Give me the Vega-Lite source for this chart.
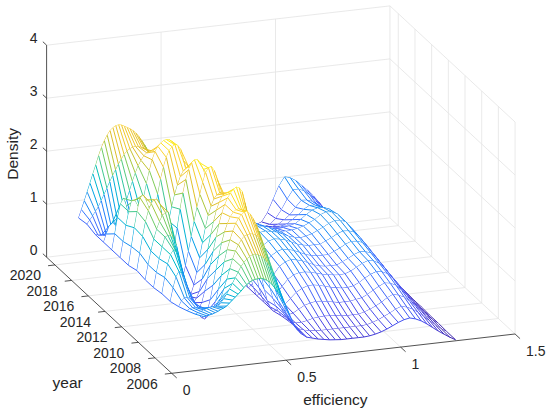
{
  "$schema": "https://vega.github.io/schema/vega-lite/v6.json",
  "description": "3D density mesh of efficiency by year, drawn with an oblique projection",
  "width": 550,
  "height": 413,
  "padding": 0,
  "autosize": "none",
  "background": "white",
  "config": {
    "view": {"stroke": null},
    "text": {"font": "Liberation Sans", "color": "#262626", "fontSize": 14}
  },
  "datasets": {
    "surface": [
      {"year":2021,"efficiency":0.14,"density":0.67},{"year":2021,"efficiency":0.1525,"density":0.82},{"year":2021,"efficiency":0.165,"density":0.98},{"year":2021,"efficiency":0.1775,"density":1.14},{"year":2021,"efficiency":0.19,"density":1.3},{"year":2021,"efficiency":0.2025,"density":1.47},{"year":2021,"efficiency":0.215,"density":1.63},{"year":2021,"efficiency":0.2275,"density":1.8},{"year":2021,"efficiency":0.24,"density":1.95},{"year":2021,"efficiency":0.2525,"density":2.07},{"year":2021,"efficiency":0.265,"density":2.17},{"year":2021,"efficiency":0.2775,"density":2.25},{"year":2021,"efficiency":0.29,"density":2.3},{"year":2021,"efficiency":0.3025,"density":2.33},{"year":2021,"efficiency":0.315,"density":2.34},{"year":2021,"efficiency":0.3275,"density":2.33},{"year":2021,"efficiency":0.34,"density":2.3},{"year":2021,"efficiency":0.3525,"density":2.27},{"year":2021,"efficiency":0.365,"density":2.24},{"year":2021,"efficiency":0.3775,"density":2.2},{"year":2021,"efficiency":0.39,"density":2.15},{"year":2021,"efficiency":0.4025,"density":2.08},{"year":2021,"efficiency":0.415,"density":2.0},{"year":2021,"efficiency":0.4275,"density":1.91},{"year":2021,"efficiency":0.44,"density":1.8},{"year":2021,"efficiency":0.4525,"density":1.65},{"year":2021,"efficiency":0.465,"density":1.47},{"year":2021,"efficiency":0.4775,"density":1.28},{"year":2021,"efficiency":0.49,"density":1.1},{"year":2021,"efficiency":0.5025,"density":0.93},{"year":2021,"efficiency":0.515,"density":0.78},{"year":2021,"efficiency":0.5275,"density":0.63},{"year":2021,"efficiency":0.54,"density":0.5},{"year":2021,"efficiency":0.5525,"density":0.41},{"year":2021,"efficiency":0.565,"density":0.34},{"year":2021,"efficiency":0.5775,"density":0.29},{"year":2021,"efficiency":0.59,"density":0.25},{"year":2021,"efficiency":0.615,"density":0.2},{"year":2021,"efficiency":0.64,"density":0.18},{"year":2021,"efficiency":0.665,"density":0.16},{"year":2021,"efficiency":0.69,"density":0.15},{"year":2021,"efficiency":0.715,"density":0.15},{"year":2021,"efficiency":0.74,"density":0.15},{"year":2021,"efficiency":0.765,"density":0.15},{"year":2021,"efficiency":0.79,"density":0.15},{"year":2021,"efficiency":0.815,"density":0.15},{"year":2021,"efficiency":0.84,"density":0.15},{"year":2021,"efficiency":0.865,"density":0.15},{"year":2021,"efficiency":0.89,"density":0.15},{"year":2021,"efficiency":0.915,"density":0.16},{"year":2021,"efficiency":0.94,"density":0.2},{"year":2021,"efficiency":0.965,"density":0.36},{"year":2021,"efficiency":0.99,"density":0.6},{"year":2021,"efficiency":1.015,"density":0.84},{"year":2021,"efficiency":1.04,"density":1.0},{"year":2021,"efficiency":1.065,"density":0.97},{"year":2021,"efficiency":1.09,"density":0.9},{"year":2021,"efficiency":1.115,"density":0.8},{"year":2021,"efficiency":1.14,"density":0.7},{"year":2021,"efficiency":1.165,"density":0.58},{"year":2021,"efficiency":1.19,"density":0.45},{"year":2021,"efficiency":1.215,"density":0.25},{"year":2021,"efficiency":1.24,"density":0.05},
      {"year":2020,"efficiency":0.14,"density":0.7},{"year":2020,"efficiency":0.1525,"density":0.77},{"year":2020,"efficiency":0.165,"density":0.84},{"year":2020,"efficiency":0.1775,"density":0.92},{"year":2020,"efficiency":0.19,"density":1.0},{"year":2020,"efficiency":0.2025,"density":1.11},{"year":2020,"efficiency":0.215,"density":1.22},{"year":2020,"efficiency":0.2275,"density":1.33},{"year":2020,"efficiency":0.24,"density":1.45},{"year":2020,"efficiency":0.2525,"density":1.56},{"year":2020,"efficiency":0.265,"density":1.66},{"year":2020,"efficiency":0.2775,"density":1.76},{"year":2020,"efficiency":0.29,"density":1.85},{"year":2020,"efficiency":0.3025,"density":1.93},{"year":2020,"efficiency":0.315,"density":1.99},{"year":2020,"efficiency":0.3275,"density":2.03},{"year":2020,"efficiency":0.34,"density":2.05},{"year":2020,"efficiency":0.3525,"density":2.06},{"year":2020,"efficiency":0.365,"density":2.05},{"year":2020,"efficiency":0.3775,"density":2.03},{"year":2020,"efficiency":0.39,"density":2.0},{"year":2020,"efficiency":0.4025,"density":1.95},{"year":2020,"efficiency":0.415,"density":1.88},{"year":2020,"efficiency":0.4275,"density":1.8},{"year":2020,"efficiency":0.44,"density":1.7},{"year":2020,"efficiency":0.4525,"density":1.57},{"year":2020,"efficiency":0.465,"density":1.42},{"year":2020,"efficiency":0.4775,"density":1.26},{"year":2020,"efficiency":0.49,"density":1.1},{"year":2020,"efficiency":0.5025,"density":0.95},{"year":2020,"efficiency":0.515,"density":0.8},{"year":2020,"efficiency":0.5275,"density":0.67},{"year":2020,"efficiency":0.54,"density":0.55},{"year":2020,"efficiency":0.5525,"density":0.47},{"year":2020,"efficiency":0.565,"density":0.4},{"year":2020,"efficiency":0.5775,"density":0.35},{"year":2020,"efficiency":0.59,"density":0.3},{"year":2020,"efficiency":0.615,"density":0.29},{"year":2020,"efficiency":0.64,"density":0.3},{"year":2020,"efficiency":0.665,"density":0.33},{"year":2020,"efficiency":0.69,"density":0.35},{"year":2020,"efficiency":0.715,"density":0.36},{"year":2020,"efficiency":0.74,"density":0.35},{"year":2020,"efficiency":0.765,"density":0.33},{"year":2020,"efficiency":0.79,"density":0.3},{"year":2020,"efficiency":0.815,"density":0.27},{"year":2020,"efficiency":0.84,"density":0.25},{"year":2020,"efficiency":0.865,"density":0.25},{"year":2020,"efficiency":0.89,"density":0.25},{"year":2020,"efficiency":0.915,"density":0.27},{"year":2020,"efficiency":0.94,"density":0.3},{"year":2020,"efficiency":0.965,"density":0.4},{"year":2020,"efficiency":0.99,"density":0.55},{"year":2020,"efficiency":1.015,"density":0.74},{"year":2020,"efficiency":1.04,"density":0.9},{"year":2020,"efficiency":1.065,"density":0.9},{"year":2020,"efficiency":1.09,"density":0.85},{"year":2020,"efficiency":1.115,"density":0.76},{"year":2020,"efficiency":1.14,"density":0.65},{"year":2020,"efficiency":1.165,"density":0.53},{"year":2020,"efficiency":1.19,"density":0.4},{"year":2020,"efficiency":1.215,"density":0.22},{"year":2020,"efficiency":1.24,"density":0.05},
      {"year":2019,"efficiency":0.14,"density":0.65},{"year":2019,"efficiency":0.1525,"density":0.63},{"year":2019,"efficiency":0.165,"density":0.62},{"year":2019,"efficiency":0.1775,"density":0.61},{"year":2019,"efficiency":0.19,"density":0.6},{"year":2019,"efficiency":0.2025,"density":0.62},{"year":2019,"efficiency":0.215,"density":0.66},{"year":2019,"efficiency":0.2275,"density":0.72},{"year":2019,"efficiency":0.24,"density":0.8},{"year":2019,"efficiency":0.2525,"density":0.93},{"year":2019,"efficiency":0.265,"density":1.08},{"year":2019,"efficiency":0.2775,"density":1.24},{"year":2019,"efficiency":0.29,"density":1.4},{"year":2019,"efficiency":0.3025,"density":1.57},{"year":2019,"efficiency":0.315,"density":1.72},{"year":2019,"efficiency":0.3275,"density":1.85},{"year":2019,"efficiency":0.34,"density":1.95},{"year":2019,"efficiency":0.3525,"density":2.03},{"year":2019,"efficiency":0.365,"density":2.08},{"year":2019,"efficiency":0.3775,"density":2.1},{"year":2019,"efficiency":0.39,"density":2.1},{"year":2019,"efficiency":0.4025,"density":2.08},{"year":2019,"efficiency":0.415,"density":2.04},{"year":2019,"efficiency":0.4275,"density":1.98},{"year":2019,"efficiency":0.44,"density":1.9},{"year":2019,"efficiency":0.4525,"density":1.76},{"year":2019,"efficiency":0.465,"density":1.58},{"year":2019,"efficiency":0.4775,"density":1.39},{"year":2019,"efficiency":0.49,"density":1.2},{"year":2019,"efficiency":0.5025,"density":1.02},{"year":2019,"efficiency":0.515,"density":0.85},{"year":2019,"efficiency":0.5275,"density":0.71},{"year":2019,"efficiency":0.54,"density":0.6},{"year":2019,"efficiency":0.5525,"density":0.53},{"year":2019,"efficiency":0.565,"density":0.47},{"year":2019,"efficiency":0.5775,"density":0.43},{"year":2019,"efficiency":0.59,"density":0.4},{"year":2019,"efficiency":0.615,"density":0.44},{"year":2019,"efficiency":0.64,"density":0.5},{"year":2019,"efficiency":0.665,"density":0.56},{"year":2019,"efficiency":0.69,"density":0.6},{"year":2019,"efficiency":0.715,"density":0.59},{"year":2019,"efficiency":0.74,"density":0.55},{"year":2019,"efficiency":0.765,"density":0.5},{"year":2019,"efficiency":0.79,"density":0.45},{"year":2019,"efficiency":0.815,"density":0.42},{"year":2019,"efficiency":0.84,"density":0.4},{"year":2019,"efficiency":0.865,"density":0.4},{"year":2019,"efficiency":0.89,"density":0.4},{"year":2019,"efficiency":0.915,"density":0.42},{"year":2019,"efficiency":0.94,"density":0.45},{"year":2019,"efficiency":0.965,"density":0.52},{"year":2019,"efficiency":0.99,"density":0.6},{"year":2019,"efficiency":1.015,"density":0.73},{"year":2019,"efficiency":1.04,"density":0.85},{"year":2019,"efficiency":1.065,"density":0.84},{"year":2019,"efficiency":1.09,"density":0.8},{"year":2019,"efficiency":1.115,"density":0.7},{"year":2019,"efficiency":1.14,"density":0.6},{"year":2019,"efficiency":1.165,"density":0.48},{"year":2019,"efficiency":1.19,"density":0.35},{"year":2019,"efficiency":1.215,"density":0.2},{"year":2019,"efficiency":1.24,"density":0.05},
      {"year":2018,"efficiency":0.14,"density":0.65},{"year":2018,"efficiency":0.1525,"density":0.8},{"year":2018,"efficiency":0.165,"density":0.95},{"year":2018,"efficiency":0.1775,"density":1.0},{"year":2018,"efficiency":0.19,"density":0.95},{"year":2018,"efficiency":0.2025,"density":0.8},{"year":2018,"efficiency":0.215,"density":0.6},{"year":2018,"efficiency":0.2275,"density":0.42},{"year":2018,"efficiency":0.24,"density":0.3},{"year":2018,"efficiency":0.2525,"density":0.37},{"year":2018,"efficiency":0.265,"density":0.5},{"year":2018,"efficiency":0.2775,"density":0.69},{"year":2018,"efficiency":0.29,"density":0.9},{"year":2018,"efficiency":0.3025,"density":1.15},{"year":2018,"efficiency":0.315,"density":1.4},{"year":2018,"efficiency":0.3275,"density":1.66},{"year":2018,"efficiency":0.34,"density":1.9},{"year":2018,"efficiency":0.3525,"density":2.1},{"year":2018,"efficiency":0.365,"density":2.25},{"year":2018,"efficiency":0.3775,"density":2.34},{"year":2018,"efficiency":0.39,"density":2.4},{"year":2018,"efficiency":0.4025,"density":2.44},{"year":2018,"efficiency":0.415,"density":2.45},{"year":2018,"efficiency":0.4275,"density":2.44},{"year":2018,"efficiency":0.44,"density":2.4},{"year":2018,"efficiency":0.4525,"density":2.25},{"year":2018,"efficiency":0.465,"density":2.05},{"year":2018,"efficiency":0.4775,"density":1.83},{"year":2018,"efficiency":0.49,"density":1.6},{"year":2018,"efficiency":0.5025,"density":1.32},{"year":2018,"efficiency":0.515,"density":1.05},{"year":2018,"efficiency":0.5275,"density":0.8},{"year":2018,"efficiency":0.54,"density":0.6},{"year":2018,"efficiency":0.5525,"density":0.52},{"year":2018,"efficiency":0.565,"density":0.47},{"year":2018,"efficiency":0.5775,"density":0.45},{"year":2018,"efficiency":0.59,"density":0.45},{"year":2018,"efficiency":0.615,"density":0.55},{"year":2018,"efficiency":0.64,"density":0.65},{"year":2018,"efficiency":0.665,"density":0.74},{"year":2018,"efficiency":0.69,"density":0.8},{"year":2018,"efficiency":0.715,"density":0.79},{"year":2018,"efficiency":0.74,"density":0.75},{"year":2018,"efficiency":0.765,"density":0.7},{"year":2018,"efficiency":0.79,"density":0.65},{"year":2018,"efficiency":0.815,"density":0.59},{"year":2018,"efficiency":0.84,"density":0.55},{"year":2018,"efficiency":0.865,"density":0.54},{"year":2018,"efficiency":0.89,"density":0.55},{"year":2018,"efficiency":0.915,"density":0.57},{"year":2018,"efficiency":0.94,"density":0.6},{"year":2018,"efficiency":0.965,"density":0.67},{"year":2018,"efficiency":0.99,"density":0.75},{"year":2018,"efficiency":1.015,"density":0.84},{"year":2018,"efficiency":1.04,"density":0.9},{"year":2018,"efficiency":1.065,"density":0.89},{"year":2018,"efficiency":1.09,"density":0.85},{"year":2018,"efficiency":1.115,"density":0.76},{"year":2018,"efficiency":1.14,"density":0.65},{"year":2018,"efficiency":1.165,"density":0.5},{"year":2018,"efficiency":1.19,"density":0.35},{"year":2018,"efficiency":1.215,"density":0.2},{"year":2018,"efficiency":1.24,"density":0.05},
      {"year":2017,"efficiency":0.14,"density":0.65},{"year":2017,"efficiency":0.1525,"density":0.95},{"year":2017,"efficiency":0.165,"density":1.25},{"year":2017,"efficiency":0.1775,"density":1.5},{"year":2017,"efficiency":0.19,"density":1.6},{"year":2017,"efficiency":0.2025,"density":1.45},{"year":2017,"efficiency":0.215,"density":1.15},{"year":2017,"efficiency":0.2275,"density":0.86},{"year":2017,"efficiency":0.24,"density":0.6},{"year":2017,"efficiency":0.2525,"density":0.5},{"year":2017,"efficiency":0.265,"density":0.45},{"year":2017,"efficiency":0.2775,"density":0.45},{"year":2017,"efficiency":0.29,"density":0.5},{"year":2017,"efficiency":0.3025,"density":0.7},{"year":2017,"efficiency":0.315,"density":0.95},{"year":2017,"efficiency":0.3275,"density":1.27},{"year":2017,"efficiency":0.34,"density":1.6},{"year":2017,"efficiency":0.3525,"density":1.88},{"year":2017,"efficiency":0.365,"density":2.1},{"year":2017,"efficiency":0.3775,"density":2.28},{"year":2017,"efficiency":0.39,"density":2.4},{"year":2017,"efficiency":0.4025,"density":2.47},{"year":2017,"efficiency":0.415,"density":2.5},{"year":2017,"efficiency":0.4275,"density":2.48},{"year":2017,"efficiency":0.44,"density":2.4},{"year":2017,"efficiency":0.4525,"density":2.18},{"year":2017,"efficiency":0.465,"density":1.9},{"year":2017,"efficiency":0.4775,"density":1.62},{"year":2017,"efficiency":0.49,"density":1.35},{"year":2017,"efficiency":0.5025,"density":1.09},{"year":2017,"efficiency":0.515,"density":0.85},{"year":2017,"efficiency":0.5275,"density":0.68},{"year":2017,"efficiency":0.54,"density":0.55},{"year":2017,"efficiency":0.5525,"density":0.47},{"year":2017,"efficiency":0.565,"density":0.42},{"year":2017,"efficiency":0.5775,"density":0.4},{"year":2017,"efficiency":0.59,"density":0.4},{"year":2017,"efficiency":0.615,"density":0.55},{"year":2017,"efficiency":0.64,"density":0.7},{"year":2017,"efficiency":0.665,"density":0.82},{"year":2017,"efficiency":0.69,"density":0.9},{"year":2017,"efficiency":0.715,"density":0.91},{"year":2017,"efficiency":0.74,"density":0.9},{"year":2017,"efficiency":0.765,"density":0.85},{"year":2017,"efficiency":0.79,"density":0.8},{"year":2017,"efficiency":0.815,"density":0.74},{"year":2017,"efficiency":0.84,"density":0.7},{"year":2017,"efficiency":0.865,"density":0.69},{"year":2017,"efficiency":0.89,"density":0.7},{"year":2017,"efficiency":0.915,"density":0.72},{"year":2017,"efficiency":0.94,"density":0.75},{"year":2017,"efficiency":0.965,"density":0.82},{"year":2017,"efficiency":0.99,"density":0.9},{"year":2017,"efficiency":1.015,"density":0.97},{"year":2017,"efficiency":1.04,"density":1.0},{"year":2017,"efficiency":1.065,"density":0.99},{"year":2017,"efficiency":1.09,"density":0.95},{"year":2017,"efficiency":1.115,"density":0.84},{"year":2017,"efficiency":1.14,"density":0.7},{"year":2017,"efficiency":1.165,"density":0.52},{"year":2017,"efficiency":1.19,"density":0.35},{"year":2017,"efficiency":1.215,"density":0.2},{"year":2017,"efficiency":1.24,"density":0.05},
      {"year":2016,"efficiency":0.14,"density":0.65},{"year":2016,"efficiency":0.1525,"density":0.95},{"year":2016,"efficiency":0.165,"density":1.25},{"year":2016,"efficiency":0.1775,"density":1.5},{"year":2016,"efficiency":0.19,"density":1.7},{"year":2016,"efficiency":0.2025,"density":1.7},{"year":2016,"efficiency":0.215,"density":1.6},{"year":2016,"efficiency":0.2275,"density":1.42},{"year":2016,"efficiency":0.24,"density":1.2},{"year":2016,"efficiency":0.2525,"density":0.9},{"year":2016,"efficiency":0.265,"density":0.6},{"year":2016,"efficiency":0.2775,"density":0.36},{"year":2016,"efficiency":0.29,"density":0.2},{"year":2016,"efficiency":0.3025,"density":0.28},{"year":2016,"efficiency":0.315,"density":0.45},{"year":2016,"efficiency":0.3275,"density":0.68},{"year":2016,"efficiency":0.34,"density":0.95},{"year":2016,"efficiency":0.3525,"density":1.23},{"year":2016,"efficiency":0.365,"density":1.5},{"year":2016,"efficiency":0.3775,"density":1.72},{"year":2016,"efficiency":0.39,"density":1.9},{"year":2016,"efficiency":0.4025,"density":2.05},{"year":2016,"efficiency":0.415,"density":2.15},{"year":2016,"efficiency":0.4275,"density":2.2},{"year":2016,"efficiency":0.44,"density":2.2},{"year":2016,"efficiency":0.4525,"density":2.15},{"year":2016,"efficiency":0.465,"density":2.05},{"year":2016,"efficiency":0.4775,"density":1.9},{"year":2016,"efficiency":0.49,"density":1.7},{"year":2016,"efficiency":0.5025,"density":1.46},{"year":2016,"efficiency":0.515,"density":1.2},{"year":2016,"efficiency":0.5275,"density":0.98},{"year":2016,"efficiency":0.54,"density":0.8},{"year":2016,"efficiency":0.5525,"density":0.62},{"year":2016,"efficiency":0.565,"density":0.48},{"year":2016,"efficiency":0.5775,"density":0.4},{"year":2016,"efficiency":0.59,"density":0.35},{"year":2016,"efficiency":0.615,"density":0.5},{"year":2016,"efficiency":0.64,"density":0.7},{"year":2016,"efficiency":0.665,"density":0.86},{"year":2016,"efficiency":0.69,"density":0.95},{"year":2016,"efficiency":0.715,"density":0.96},{"year":2016,"efficiency":0.74,"density":0.95},{"year":2016,"efficiency":0.765,"density":0.93},{"year":2016,"efficiency":0.79,"density":0.9},{"year":2016,"efficiency":0.815,"density":0.85},{"year":2016,"efficiency":0.84,"density":0.8},{"year":2016,"efficiency":0.865,"density":0.79},{"year":2016,"efficiency":0.89,"density":0.8},{"year":2016,"efficiency":0.915,"density":0.82},{"year":2016,"efficiency":0.94,"density":0.85},{"year":2016,"efficiency":0.965,"density":0.9},{"year":2016,"efficiency":0.99,"density":0.95},{"year":2016,"efficiency":1.015,"density":1.03},{"year":2016,"efficiency":1.04,"density":1.07},{"year":2016,"efficiency":1.065,"density":1.05},{"year":2016,"efficiency":1.09,"density":1.0},{"year":2016,"efficiency":1.115,"density":0.87},{"year":2016,"efficiency":1.14,"density":0.7},{"year":2016,"efficiency":1.165,"density":0.52},{"year":2016,"efficiency":1.19,"density":0.35},{"year":2016,"efficiency":1.215,"density":0.2},{"year":2016,"efficiency":1.24,"density":0.05},
      {"year":2015,"efficiency":0.14,"density":0.65},{"year":2015,"efficiency":0.1525,"density":1.0},{"year":2015,"efficiency":0.165,"density":1.35},{"year":2015,"efficiency":0.1775,"density":1.65},{"year":2015,"efficiency":0.19,"density":1.9},{"year":2015,"efficiency":0.2025,"density":1.95},{"year":2015,"efficiency":0.215,"density":1.85},{"year":2015,"efficiency":0.2275,"density":1.7},{"year":2015,"efficiency":0.24,"density":1.5},{"year":2015,"efficiency":0.2525,"density":1.18},{"year":2015,"efficiency":0.265,"density":0.85},{"year":2015,"efficiency":0.2775,"density":0.55},{"year":2015,"efficiency":0.29,"density":0.3},{"year":2015,"efficiency":0.3025,"density":0.27},{"year":2015,"efficiency":0.315,"density":0.35},{"year":2015,"efficiency":0.3275,"density":0.58},{"year":2015,"efficiency":0.34,"density":0.9},{"year":2015,"efficiency":0.3525,"density":1.25},{"year":2015,"efficiency":0.365,"density":1.6},{"year":2015,"efficiency":0.3775,"density":1.9},{"year":2015,"efficiency":0.39,"density":2.15},{"year":2015,"efficiency":0.4025,"density":2.33},{"year":2015,"efficiency":0.415,"density":2.45},{"year":2015,"efficiency":0.4275,"density":2.5},{"year":2015,"efficiency":0.44,"density":2.5},{"year":2015,"efficiency":0.4525,"density":2.43},{"year":2015,"efficiency":0.465,"density":2.3},{"year":2015,"efficiency":0.4775,"density":2.1},{"year":2015,"efficiency":0.49,"density":1.85},{"year":2015,"efficiency":0.5025,"density":1.58},{"year":2015,"efficiency":0.515,"density":1.3},{"year":2015,"efficiency":0.5275,"density":1.04},{"year":2015,"efficiency":0.54,"density":0.8},{"year":2015,"efficiency":0.5525,"density":0.6},{"year":2015,"efficiency":0.565,"density":0.45},{"year":2015,"efficiency":0.5775,"density":0.36},{"year":2015,"efficiency":0.59,"density":0.3},{"year":2015,"efficiency":0.615,"density":0.45},{"year":2015,"efficiency":0.64,"density":0.65},{"year":2015,"efficiency":0.665,"density":0.83},{"year":2015,"efficiency":0.69,"density":0.95},{"year":2015,"efficiency":0.715,"density":0.99},{"year":2015,"efficiency":0.74,"density":1.0},{"year":2015,"efficiency":0.765,"density":0.98},{"year":2015,"efficiency":0.79,"density":0.95},{"year":2015,"efficiency":0.815,"density":0.9},{"year":2015,"efficiency":0.84,"density":0.85},{"year":2015,"efficiency":0.865,"density":0.82},{"year":2015,"efficiency":0.89,"density":0.8},{"year":2015,"efficiency":0.915,"density":0.82},{"year":2015,"efficiency":0.94,"density":0.85},{"year":2015,"efficiency":0.965,"density":0.9},{"year":2015,"efficiency":0.99,"density":0.95},{"year":2015,"efficiency":1.015,"density":1.01},{"year":2015,"efficiency":1.04,"density":1.05},{"year":2015,"efficiency":1.065,"density":1.04},{"year":2015,"efficiency":1.09,"density":1.0},{"year":2015,"efficiency":1.115,"density":0.87},{"year":2015,"efficiency":1.14,"density":0.7},{"year":2015,"efficiency":1.165,"density":0.52},{"year":2015,"efficiency":1.19,"density":0.35},{"year":2015,"efficiency":1.215,"density":0.2},{"year":2015,"efficiency":1.24,"density":0.05},
      {"year":2014,"efficiency":0.14,"density":0.7},{"year":2014,"efficiency":0.1525,"density":1.02},{"year":2014,"efficiency":0.165,"density":1.33},{"year":2014,"efficiency":0.1775,"density":1.6},{"year":2014,"efficiency":0.19,"density":1.8},{"year":2014,"efficiency":0.2025,"density":1.93},{"year":2014,"efficiency":0.215,"density":2.0},{"year":2014,"efficiency":0.2275,"density":2.0},{"year":2014,"efficiency":0.24,"density":1.9},{"year":2014,"efficiency":0.2525,"density":1.5},{"year":2014,"efficiency":0.265,"density":1.0},{"year":2014,"efficiency":0.2775,"density":0.52},{"year":2014,"efficiency":0.29,"density":0.15},{"year":2014,"efficiency":0.3025,"density":0.14},{"year":2014,"efficiency":0.315,"density":0.2},{"year":2014,"efficiency":0.3275,"density":0.3},{"year":2014,"efficiency":0.34,"density":0.45},{"year":2014,"efficiency":0.3525,"density":0.68},{"year":2014,"efficiency":0.365,"density":0.95},{"year":2014,"efficiency":0.3775,"density":1.22},{"year":2014,"efficiency":0.39,"density":1.5},{"year":2014,"efficiency":0.4025,"density":1.76},{"year":2014,"efficiency":0.415,"density":2.0},{"year":2014,"efficiency":0.4275,"density":2.22},{"year":2014,"efficiency":0.44,"density":2.4},{"year":2014,"efficiency":0.4525,"density":2.48},{"year":2014,"efficiency":0.465,"density":2.5},{"year":2014,"efficiency":0.4775,"density":2.42},{"year":2014,"efficiency":0.49,"density":2.25},{"year":2014,"efficiency":0.5025,"density":2.0},{"year":2014,"efficiency":0.515,"density":1.7},{"year":2014,"efficiency":0.5275,"density":1.4},{"year":2014,"efficiency":0.54,"density":1.1},{"year":2014,"efficiency":0.5525,"density":0.8},{"year":2014,"efficiency":0.565,"density":0.55},{"year":2014,"efficiency":0.5775,"density":0.4},{"year":2014,"efficiency":0.59,"density":0.3},{"year":2014,"efficiency":0.615,"density":0.42},{"year":2014,"efficiency":0.64,"density":0.6},{"year":2014,"efficiency":0.665,"density":0.77},{"year":2014,"efficiency":0.69,"density":0.9},{"year":2014,"efficiency":0.715,"density":0.97},{"year":2014,"efficiency":0.74,"density":1.0},{"year":2014,"efficiency":0.765,"density":0.98},{"year":2014,"efficiency":0.79,"density":0.95},{"year":2014,"efficiency":0.815,"density":0.9},{"year":2014,"efficiency":0.84,"density":0.85},{"year":2014,"efficiency":0.865,"density":0.82},{"year":2014,"efficiency":0.89,"density":0.8},{"year":2014,"efficiency":0.915,"density":0.8},{"year":2014,"efficiency":0.94,"density":0.8},{"year":2014,"efficiency":0.965,"density":0.85},{"year":2014,"efficiency":0.99,"density":0.9},{"year":2014,"efficiency":1.015,"density":0.96},{"year":2014,"efficiency":1.04,"density":1.0},{"year":2014,"efficiency":1.065,"density":0.99},{"year":2014,"efficiency":1.09,"density":0.95},{"year":2014,"efficiency":1.115,"density":0.84},{"year":2014,"efficiency":1.14,"density":0.7},{"year":2014,"efficiency":1.165,"density":0.52},{"year":2014,"efficiency":1.19,"density":0.35},{"year":2014,"efficiency":1.215,"density":0.2},{"year":2014,"efficiency":1.24,"density":0.05},
      {"year":2013,"efficiency":0.14,"density":0.67},{"year":2013,"efficiency":0.1525,"density":0.95},{"year":2013,"efficiency":0.165,"density":1.2},{"year":2013,"efficiency":0.1775,"density":1.42},{"year":2013,"efficiency":0.19,"density":1.6},{"year":2013,"efficiency":0.2025,"density":1.74},{"year":2013,"efficiency":0.215,"density":1.85},{"year":2013,"efficiency":0.2275,"density":1.9},{"year":2013,"efficiency":0.24,"density":1.9},{"year":2013,"efficiency":0.2525,"density":1.65},{"year":2013,"efficiency":0.265,"density":1.3},{"year":2013,"efficiency":0.2775,"density":0.88},{"year":2013,"efficiency":0.29,"density":0.5},{"year":2013,"efficiency":0.3025,"density":0.37},{"year":2013,"efficiency":0.315,"density":0.3},{"year":2013,"efficiency":0.3275,"density":0.27},{"year":2013,"efficiency":0.34,"density":0.3},{"year":2013,"efficiency":0.3525,"density":0.47},{"year":2013,"efficiency":0.365,"density":0.7},{"year":2013,"efficiency":0.3775,"density":0.97},{"year":2013,"efficiency":0.39,"density":1.25},{"year":2013,"efficiency":0.4025,"density":1.51},{"year":2013,"efficiency":0.415,"density":1.75},{"year":2013,"efficiency":0.4275,"density":1.92},{"year":2013,"efficiency":0.44,"density":2.05},{"year":2013,"efficiency":0.4525,"density":2.12},{"year":2013,"efficiency":0.465,"density":2.15},{"year":2013,"efficiency":0.4775,"density":2.12},{"year":2013,"efficiency":0.49,"density":2.05},{"year":2013,"efficiency":0.5025,"density":1.9},{"year":2013,"efficiency":0.515,"density":1.7},{"year":2013,"efficiency":0.5275,"density":1.46},{"year":2013,"efficiency":0.54,"density":1.2},{"year":2013,"efficiency":0.5525,"density":0.92},{"year":2013,"efficiency":0.565,"density":0.65},{"year":2013,"efficiency":0.5775,"density":0.45},{"year":2013,"efficiency":0.59,"density":0.3},{"year":2013,"efficiency":0.615,"density":0.4},{"year":2013,"efficiency":0.64,"density":0.55},{"year":2013,"efficiency":0.665,"density":0.72},{"year":2013,"efficiency":0.69,"density":0.85},{"year":2013,"efficiency":0.715,"density":0.92},{"year":2013,"efficiency":0.74,"density":0.95},{"year":2013,"efficiency":0.765,"density":0.93},{"year":2013,"efficiency":0.79,"density":0.9},{"year":2013,"efficiency":0.815,"density":0.85},{"year":2013,"efficiency":0.84,"density":0.8},{"year":2013,"efficiency":0.865,"density":0.77},{"year":2013,"efficiency":0.89,"density":0.75},{"year":2013,"efficiency":0.915,"density":0.75},{"year":2013,"efficiency":0.94,"density":0.75},{"year":2013,"efficiency":0.965,"density":0.8},{"year":2013,"efficiency":0.99,"density":0.85},{"year":2013,"efficiency":1.015,"density":0.91},{"year":2013,"efficiency":1.04,"density":0.95},{"year":2013,"efficiency":1.065,"density":0.94},{"year":2013,"efficiency":1.09,"density":0.9},{"year":2013,"efficiency":1.115,"density":0.79},{"year":2013,"efficiency":1.14,"density":0.65},{"year":2013,"efficiency":1.165,"density":0.5},{"year":2013,"efficiency":1.19,"density":0.35},{"year":2013,"efficiency":1.215,"density":0.2},{"year":2013,"efficiency":1.24,"density":0.05},
      {"year":2012,"efficiency":0.14,"density":0.67},{"year":2012,"efficiency":0.1525,"density":0.95},{"year":2012,"efficiency":0.165,"density":1.2},{"year":2012,"efficiency":0.1775,"density":1.42},{"year":2012,"efficiency":0.19,"density":1.6},{"year":2012,"efficiency":0.2025,"density":1.62},{"year":2012,"efficiency":0.215,"density":1.6},{"year":2012,"efficiency":0.2275,"density":1.53},{"year":2012,"efficiency":0.24,"density":1.4},{"year":2012,"efficiency":0.2525,"density":1.14},{"year":2012,"efficiency":0.265,"density":0.85},{"year":2012,"efficiency":0.2775,"density":0.57},{"year":2012,"efficiency":0.29,"density":0.35},{"year":2012,"efficiency":0.3025,"density":0.29},{"year":2012,"efficiency":0.315,"density":0.3},{"year":2012,"efficiency":0.3275,"density":0.38},{"year":2012,"efficiency":0.34,"density":0.5},{"year":2012,"efficiency":0.3525,"density":0.73},{"year":2012,"efficiency":0.365,"density":1.0},{"year":2012,"efficiency":0.3775,"density":1.28},{"year":2012,"efficiency":0.39,"density":1.55},{"year":2012,"efficiency":0.4025,"density":1.79},{"year":2012,"efficiency":0.415,"density":2.0},{"year":2012,"efficiency":0.4275,"density":2.14},{"year":2012,"efficiency":0.44,"density":2.25},{"year":2012,"efficiency":0.4525,"density":2.29},{"year":2012,"efficiency":0.465,"density":2.3},{"year":2012,"efficiency":0.4775,"density":2.27},{"year":2012,"efficiency":0.49,"density":2.2},{"year":2012,"efficiency":0.5025,"density":2.02},{"year":2012,"efficiency":0.515,"density":1.8},{"year":2012,"efficiency":0.5275,"density":1.51},{"year":2012,"efficiency":0.54,"density":1.2},{"year":2012,"efficiency":0.5525,"density":0.92},{"year":2012,"efficiency":0.565,"density":0.65},{"year":2012,"efficiency":0.5775,"density":0.45},{"year":2012,"efficiency":0.59,"density":0.3},{"year":2012,"efficiency":0.615,"density":0.38},{"year":2012,"efficiency":0.64,"density":0.5},{"year":2012,"efficiency":0.665,"density":0.66},{"year":2012,"efficiency":0.69,"density":0.8},{"year":2012,"efficiency":0.715,"density":0.87},{"year":2012,"efficiency":0.74,"density":0.9},{"year":2012,"efficiency":0.765,"density":0.88},{"year":2012,"efficiency":0.79,"density":0.85},{"year":2012,"efficiency":0.815,"density":0.8},{"year":2012,"efficiency":0.84,"density":0.75},{"year":2012,"efficiency":0.865,"density":0.72},{"year":2012,"efficiency":0.89,"density":0.7},{"year":2012,"efficiency":0.915,"density":0.7},{"year":2012,"efficiency":0.94,"density":0.7},{"year":2012,"efficiency":0.965,"density":0.75},{"year":2012,"efficiency":0.99,"density":0.8},{"year":2012,"efficiency":1.015,"density":0.86},{"year":2012,"efficiency":1.04,"density":0.9},{"year":2012,"efficiency":1.065,"density":0.89},{"year":2012,"efficiency":1.09,"density":0.85},{"year":2012,"efficiency":1.115,"density":0.74},{"year":2012,"efficiency":1.14,"density":0.6},{"year":2012,"efficiency":1.165,"density":0.45},{"year":2012,"efficiency":1.19,"density":0.3},{"year":2012,"efficiency":1.215,"density":0.17},{"year":2012,"efficiency":1.24,"density":0.05},
      {"year":2011,"efficiency":0.14,"density":0.7},{"year":2011,"efficiency":0.1525,"density":1.0},{"year":2011,"efficiency":0.165,"density":1.25},{"year":2011,"efficiency":0.1775,"density":1.42},{"year":2011,"efficiency":0.19,"density":1.5},{"year":2011,"efficiency":0.2025,"density":1.45},{"year":2011,"efficiency":0.215,"density":1.3},{"year":2011,"efficiency":0.2275,"density":1.1},{"year":2011,"efficiency":0.24,"density":0.9},{"year":2011,"efficiency":0.2525,"density":0.69},{"year":2011,"efficiency":0.265,"density":0.5},{"year":2011,"efficiency":0.2775,"density":0.37},{"year":2011,"efficiency":0.29,"density":0.3},{"year":2011,"efficiency":0.3025,"density":0.35},{"year":2011,"efficiency":0.315,"density":0.45},{"year":2011,"efficiency":0.3275,"density":0.66},{"year":2011,"efficiency":0.34,"density":0.9},{"year":2011,"efficiency":0.3525,"density":1.15},{"year":2011,"efficiency":0.365,"density":1.4},{"year":2011,"efficiency":0.3775,"density":1.66},{"year":2011,"efficiency":0.39,"density":1.9},{"year":2011,"efficiency":0.4025,"density":2.1},{"year":2011,"efficiency":0.415,"density":2.25},{"year":2011,"efficiency":0.4275,"density":2.37},{"year":2011,"efficiency":0.44,"density":2.45},{"year":2011,"efficiency":0.4525,"density":2.52},{"year":2011,"efficiency":0.465,"density":2.55},{"year":2011,"efficiency":0.4775,"density":2.53},{"year":2011,"efficiency":0.49,"density":2.45},{"year":2011,"efficiency":0.5025,"density":2.23},{"year":2011,"efficiency":0.515,"density":1.95},{"year":2011,"efficiency":0.5275,"density":1.58},{"year":2011,"efficiency":0.54,"density":1.2},{"year":2011,"efficiency":0.5525,"density":0.88},{"year":2011,"efficiency":0.565,"density":0.6},{"year":2011,"efficiency":0.5775,"density":0.42},{"year":2011,"efficiency":0.59,"density":0.3},{"year":2011,"efficiency":0.615,"density":0.35},{"year":2011,"efficiency":0.64,"density":0.45},{"year":2011,"efficiency":0.665,"density":0.58},{"year":2011,"efficiency":0.69,"density":0.7},{"year":2011,"efficiency":0.715,"density":0.77},{"year":2011,"efficiency":0.74,"density":0.8},{"year":2011,"efficiency":0.765,"density":0.8},{"year":2011,"efficiency":0.79,"density":0.78},{"year":2011,"efficiency":0.815,"density":0.75},{"year":2011,"efficiency":0.84,"density":0.72},{"year":2011,"efficiency":0.865,"density":0.7},{"year":2011,"efficiency":0.89,"density":0.68},{"year":2011,"efficiency":0.915,"density":0.67},{"year":2011,"efficiency":0.94,"density":0.68},{"year":2011,"efficiency":0.965,"density":0.72},{"year":2011,"efficiency":0.99,"density":0.78},{"year":2011,"efficiency":1.015,"density":0.84},{"year":2011,"efficiency":1.04,"density":0.88},{"year":2011,"efficiency":1.065,"density":0.86},{"year":2011,"efficiency":1.09,"density":0.8},{"year":2011,"efficiency":1.115,"density":0.69},{"year":2011,"efficiency":1.14,"density":0.55},{"year":2011,"efficiency":1.165,"density":0.41},{"year":2011,"efficiency":1.19,"density":0.28},{"year":2011,"efficiency":1.215,"density":0.15},{"year":2011,"efficiency":1.24,"density":0.04},
      {"year":2010,"efficiency":0.14,"density":0.7},{"year":2010,"efficiency":0.1525,"density":0.95},{"year":2010,"efficiency":0.165,"density":1.15},{"year":2010,"efficiency":0.1775,"density":1.25},{"year":2010,"efficiency":0.19,"density":1.2},{"year":2010,"efficiency":0.2025,"density":1.08},{"year":2010,"efficiency":0.215,"density":0.93},{"year":2010,"efficiency":0.2275,"density":0.76},{"year":2010,"efficiency":0.24,"density":0.6},{"year":2010,"efficiency":0.2525,"density":0.49},{"year":2010,"efficiency":0.265,"density":0.4},{"year":2010,"efficiency":0.2775,"density":0.33},{"year":2010,"efficiency":0.29,"density":0.3},{"year":2010,"efficiency":0.3025,"density":0.44},{"year":2010,"efficiency":0.315,"density":0.65},{"year":2010,"efficiency":0.3275,"density":0.92},{"year":2010,"efficiency":0.34,"density":1.2},{"year":2010,"efficiency":0.3525,"density":1.46},{"year":2010,"efficiency":0.365,"density":1.7},{"year":2010,"efficiency":0.3775,"density":1.9},{"year":2010,"efficiency":0.39,"density":2.05},{"year":2010,"efficiency":0.4025,"density":2.17},{"year":2010,"efficiency":0.415,"density":2.25},{"year":2010,"efficiency":0.4275,"density":2.29},{"year":2010,"efficiency":0.44,"density":2.3},{"year":2010,"efficiency":0.4525,"density":2.27},{"year":2010,"efficiency":0.465,"density":2.2},{"year":2010,"efficiency":0.4775,"density":2.09},{"year":2010,"efficiency":0.49,"density":1.95},{"year":2010,"efficiency":0.5025,"density":1.74},{"year":2010,"efficiency":0.515,"density":1.5},{"year":2010,"efficiency":0.5275,"density":1.23},{"year":2010,"efficiency":0.54,"density":0.95},{"year":2010,"efficiency":0.5525,"density":0.71},{"year":2010,"efficiency":0.565,"density":0.5},{"year":2010,"efficiency":0.5775,"density":0.38},{"year":2010,"efficiency":0.59,"density":0.3},{"year":2010,"efficiency":0.615,"density":0.33},{"year":2010,"efficiency":0.64,"density":0.4},{"year":2010,"efficiency":0.665,"density":0.5},{"year":2010,"efficiency":0.69,"density":0.6},{"year":2010,"efficiency":0.715,"density":0.66},{"year":2010,"efficiency":0.74,"density":0.7},{"year":2010,"efficiency":0.765,"density":0.7},{"year":2010,"efficiency":0.79,"density":0.68},{"year":2010,"efficiency":0.815,"density":0.65},{"year":2010,"efficiency":0.84,"density":0.62},{"year":2010,"efficiency":0.865,"density":0.6},{"year":2010,"efficiency":0.89,"density":0.58},{"year":2010,"efficiency":0.915,"density":0.58},{"year":2010,"efficiency":0.94,"density":0.6},{"year":2010,"efficiency":0.965,"density":0.65},{"year":2010,"efficiency":0.99,"density":0.72},{"year":2010,"efficiency":1.015,"density":0.78},{"year":2010,"efficiency":1.04,"density":0.82},{"year":2010,"efficiency":1.065,"density":0.8},{"year":2010,"efficiency":1.09,"density":0.75},{"year":2010,"efficiency":1.115,"density":0.64},{"year":2010,"efficiency":1.14,"density":0.5},{"year":2010,"efficiency":1.165,"density":0.37},{"year":2010,"efficiency":1.19,"density":0.25},{"year":2010,"efficiency":1.215,"density":0.14},{"year":2010,"efficiency":1.24,"density":0.04},
      {"year":2009,"efficiency":0.14,"density":0.75},{"year":2009,"efficiency":0.1525,"density":0.85},{"year":2009,"efficiency":0.165,"density":0.9},{"year":2009,"efficiency":0.1775,"density":0.9},{"year":2009,"efficiency":0.19,"density":0.88},{"year":2009,"efficiency":0.2025,"density":0.82},{"year":2009,"efficiency":0.215,"density":0.75},{"year":2009,"efficiency":0.2275,"density":0.67},{"year":2009,"efficiency":0.24,"density":0.6},{"year":2009,"efficiency":0.2525,"density":0.56},{"year":2009,"efficiency":0.265,"density":0.55},{"year":2009,"efficiency":0.2775,"density":0.56},{"year":2009,"efficiency":0.29,"density":0.6},{"year":2009,"efficiency":0.3025,"density":0.78},{"year":2009,"efficiency":0.315,"density":1.0},{"year":2009,"efficiency":0.3275,"density":1.25},{"year":2009,"efficiency":0.34,"density":1.5},{"year":2009,"efficiency":0.3525,"density":1.72},{"year":2009,"efficiency":0.365,"density":1.9},{"year":2009,"efficiency":0.3775,"density":2.06},{"year":2009,"efficiency":0.39,"density":2.2},{"year":2009,"efficiency":0.4025,"density":2.29},{"year":2009,"efficiency":0.415,"density":2.35},{"year":2009,"efficiency":0.4275,"density":2.39},{"year":2009,"efficiency":0.44,"density":2.4},{"year":2009,"efficiency":0.4525,"density":2.34},{"year":2009,"efficiency":0.465,"density":2.25},{"year":2009,"efficiency":0.4775,"density":2.14},{"year":2009,"efficiency":0.49,"density":2.0},{"year":2009,"efficiency":0.5025,"density":1.73},{"year":2009,"efficiency":0.515,"density":1.45},{"year":2009,"efficiency":0.5275,"density":1.17},{"year":2009,"efficiency":0.54,"density":0.9},{"year":2009,"efficiency":0.5525,"density":0.7},{"year":2009,"efficiency":0.565,"density":0.55},{"year":2009,"efficiency":0.5775,"density":0.44},{"year":2009,"efficiency":0.59,"density":0.35},{"year":2009,"efficiency":0.615,"density":0.35},{"year":2009,"efficiency":0.64,"density":0.38},{"year":2009,"efficiency":0.665,"density":0.44},{"year":2009,"efficiency":0.69,"density":0.5},{"year":2009,"efficiency":0.715,"density":0.53},{"year":2009,"efficiency":0.74,"density":0.55},{"year":2009,"efficiency":0.765,"density":0.54},{"year":2009,"efficiency":0.79,"density":0.52},{"year":2009,"efficiency":0.815,"density":0.5},{"year":2009,"efficiency":0.84,"density":0.48},{"year":2009,"efficiency":0.865,"density":0.48},{"year":2009,"efficiency":0.89,"density":0.48},{"year":2009,"efficiency":0.915,"density":0.5},{"year":2009,"efficiency":0.94,"density":0.52},{"year":2009,"efficiency":0.965,"density":0.57},{"year":2009,"efficiency":0.99,"density":0.64},{"year":2009,"efficiency":1.015,"density":0.7},{"year":2009,"efficiency":1.04,"density":0.75},{"year":2009,"efficiency":1.065,"density":0.73},{"year":2009,"efficiency":1.09,"density":0.68},{"year":2009,"efficiency":1.115,"density":0.57},{"year":2009,"efficiency":1.14,"density":0.45},{"year":2009,"efficiency":1.165,"density":0.33},{"year":2009,"efficiency":1.19,"density":0.22},{"year":2009,"efficiency":1.215,"density":0.12},{"year":2009,"efficiency":1.24,"density":0.03},
      {"year":2008,"efficiency":0.14,"density":0.82},{"year":2008,"efficiency":0.1525,"density":0.85},{"year":2008,"efficiency":0.165,"density":0.86},{"year":2008,"efficiency":0.1775,"density":0.86},{"year":2008,"efficiency":0.19,"density":0.85},{"year":2008,"efficiency":0.2025,"density":0.84},{"year":2008,"efficiency":0.215,"density":0.83},{"year":2008,"efficiency":0.2275,"density":0.81},{"year":2008,"efficiency":0.24,"density":0.8},{"year":2008,"efficiency":0.2525,"density":0.82},{"year":2008,"efficiency":0.265,"density":0.87},{"year":2008,"efficiency":0.2775,"density":0.93},{"year":2008,"efficiency":0.29,"density":1.0},{"year":2008,"efficiency":0.3025,"density":1.16},{"year":2008,"efficiency":0.315,"density":1.33},{"year":2008,"efficiency":0.3275,"density":1.52},{"year":2008,"efficiency":0.34,"density":1.7},{"year":2008,"efficiency":0.3525,"density":1.84},{"year":2008,"efficiency":0.365,"density":1.95},{"year":2008,"efficiency":0.3775,"density":2.04},{"year":2008,"efficiency":0.39,"density":2.1},{"year":2008,"efficiency":0.4025,"density":2.12},{"year":2008,"efficiency":0.415,"density":2.13},{"year":2008,"efficiency":0.4275,"density":2.12},{"year":2008,"efficiency":0.44,"density":2.1},{"year":2008,"efficiency":0.4525,"density":2.04},{"year":2008,"efficiency":0.465,"density":1.95},{"year":2008,"efficiency":0.4775,"density":1.84},{"year":2008,"efficiency":0.49,"density":1.7},{"year":2008,"efficiency":0.5025,"density":1.48},{"year":2008,"efficiency":0.515,"density":1.25},{"year":2008,"efficiency":0.5275,"density":1.02},{"year":2008,"efficiency":0.54,"density":0.8},{"year":2008,"efficiency":0.5525,"density":0.66},{"year":2008,"efficiency":0.565,"density":0.55},{"year":2008,"efficiency":0.5775,"density":0.46},{"year":2008,"efficiency":0.59,"density":0.38},{"year":2008,"efficiency":0.615,"density":0.35},{"year":2008,"efficiency":0.64,"density":0.35},{"year":2008,"efficiency":0.665,"density":0.37},{"year":2008,"efficiency":0.69,"density":0.4},{"year":2008,"efficiency":0.715,"density":0.41},{"year":2008,"efficiency":0.74,"density":0.42},{"year":2008,"efficiency":0.765,"density":0.41},{"year":2008,"efficiency":0.79,"density":0.4},{"year":2008,"efficiency":0.815,"density":0.39},{"year":2008,"efficiency":0.84,"density":0.38},{"year":2008,"efficiency":0.865,"density":0.38},{"year":2008,"efficiency":0.89,"density":0.38},{"year":2008,"efficiency":0.915,"density":0.41},{"year":2008,"efficiency":0.94,"density":0.45},{"year":2008,"efficiency":0.965,"density":0.5},{"year":2008,"efficiency":0.99,"density":0.56},{"year":2008,"efficiency":1.015,"density":0.63},{"year":2008,"efficiency":1.04,"density":0.68},{"year":2008,"efficiency":1.065,"density":0.65},{"year":2008,"efficiency":1.09,"density":0.6},{"year":2008,"efficiency":1.115,"density":0.5},{"year":2008,"efficiency":1.14,"density":0.4},{"year":2008,"efficiency":1.165,"density":0.3},{"year":2008,"efficiency":1.19,"density":0.2},{"year":2008,"efficiency":1.215,"density":0.11},{"year":2008,"efficiency":1.24,"density":0.03},
      {"year":2007,"efficiency":0.14,"density":0.9},{"year":2007,"efficiency":0.1525,"density":0.92},{"year":2007,"efficiency":0.165,"density":0.94},{"year":2007,"efficiency":0.1775,"density":0.96},{"year":2007,"efficiency":0.19,"density":0.98},{"year":2007,"efficiency":0.2025,"density":0.99},{"year":2007,"efficiency":0.215,"density":1.0},{"year":2007,"efficiency":0.2275,"density":1.0},{"year":2007,"efficiency":0.24,"density":1.0},{"year":2007,"efficiency":0.2525,"density":1.06},{"year":2007,"efficiency":0.265,"density":1.13},{"year":2007,"efficiency":0.2775,"density":1.21},{"year":2007,"efficiency":0.29,"density":1.3},{"year":2007,"efficiency":0.3025,"density":1.4},{"year":2007,"efficiency":0.315,"density":1.5},{"year":2007,"efficiency":0.3275,"density":1.6},{"year":2007,"efficiency":0.34,"density":1.7},{"year":2007,"efficiency":0.3525,"density":1.77},{"year":2007,"efficiency":0.365,"density":1.83},{"year":2007,"efficiency":0.3775,"density":1.87},{"year":2007,"efficiency":0.39,"density":1.9},{"year":2007,"efficiency":0.4025,"density":1.9},{"year":2007,"efficiency":0.415,"density":1.88},{"year":2007,"efficiency":0.4275,"density":1.85},{"year":2007,"efficiency":0.44,"density":1.8},{"year":2007,"efficiency":0.4525,"density":1.72},{"year":2007,"efficiency":0.465,"density":1.63},{"year":2007,"efficiency":0.4775,"density":1.52},{"year":2007,"efficiency":0.49,"density":1.4},{"year":2007,"efficiency":0.5025,"density":1.23},{"year":2007,"efficiency":0.515,"density":1.05},{"year":2007,"efficiency":0.5275,"density":0.87},{"year":2007,"efficiency":0.54,"density":0.7},{"year":2007,"efficiency":0.5525,"density":0.6},{"year":2007,"efficiency":0.565,"density":0.52},{"year":2007,"efficiency":0.5775,"density":0.46},{"year":2007,"efficiency":0.59,"density":0.4},{"year":2007,"efficiency":0.615,"density":0.36},{"year":2007,"efficiency":0.64,"density":0.34},{"year":2007,"efficiency":0.665,"density":0.33},{"year":2007,"efficiency":0.69,"density":0.32},{"year":2007,"efficiency":0.715,"density":0.32},{"year":2007,"efficiency":0.74,"density":0.32},{"year":2007,"efficiency":0.765,"density":0.32},{"year":2007,"efficiency":0.79,"density":0.32},{"year":2007,"efficiency":0.815,"density":0.32},{"year":2007,"efficiency":0.84,"density":0.32},{"year":2007,"efficiency":0.865,"density":0.32},{"year":2007,"efficiency":0.89,"density":0.33},{"year":2007,"efficiency":0.915,"density":0.36},{"year":2007,"efficiency":0.94,"density":0.4},{"year":2007,"efficiency":0.965,"density":0.45},{"year":2007,"efficiency":0.99,"density":0.5},{"year":2007,"efficiency":1.015,"density":0.56},{"year":2007,"efficiency":1.04,"density":0.6},{"year":2007,"efficiency":1.065,"density":0.57},{"year":2007,"efficiency":1.09,"density":0.52},{"year":2007,"efficiency":1.115,"density":0.44},{"year":2007,"efficiency":1.14,"density":0.35},{"year":2007,"efficiency":1.165,"density":0.26},{"year":2007,"efficiency":1.19,"density":0.17},{"year":2007,"efficiency":1.215,"density":0.09},{"year":2007,"efficiency":1.24,"density":0.02},
      {"year":2006,"efficiency":0.14,"density":1.0},{"year":2006,"efficiency":0.1525,"density":1.01},{"year":2006,"efficiency":0.165,"density":1.02},{"year":2006,"efficiency":0.1775,"density":1.03},{"year":2006,"efficiency":0.19,"density":1.05},{"year":2006,"efficiency":0.2025,"density":1.07},{"year":2006,"efficiency":0.215,"density":1.1},{"year":2006,"efficiency":0.2275,"density":1.12},{"year":2006,"efficiency":0.24,"density":1.15},{"year":2006,"efficiency":0.2525,"density":1.2},{"year":2006,"efficiency":0.265,"density":1.25},{"year":2006,"efficiency":0.2775,"density":1.3},{"year":2006,"efficiency":0.29,"density":1.35},{"year":2006,"efficiency":0.3025,"density":1.4},{"year":2006,"efficiency":0.315,"density":1.46},{"year":2006,"efficiency":0.3275,"density":1.51},{"year":2006,"efficiency":0.34,"density":1.55},{"year":2006,"efficiency":0.3525,"density":1.58},{"year":2006,"efficiency":0.365,"density":1.59},{"year":2006,"efficiency":0.3775,"density":1.6},{"year":2006,"efficiency":0.39,"density":1.6},{"year":2006,"efficiency":0.4025,"density":1.58},{"year":2006,"efficiency":0.415,"density":1.55},{"year":2006,"efficiency":0.4275,"density":1.51},{"year":2006,"efficiency":0.44,"density":1.45},{"year":2006,"efficiency":0.4525,"density":1.38},{"year":2006,"efficiency":0.465,"density":1.3},{"year":2006,"efficiency":0.4775,"density":1.21},{"year":2006,"efficiency":0.49,"density":1.1},{"year":2006,"efficiency":0.5025,"density":0.98},{"year":2006,"efficiency":0.515,"density":0.85},{"year":2006,"efficiency":0.5275,"density":0.72},{"year":2006,"efficiency":0.54,"density":0.6},{"year":2006,"efficiency":0.5525,"density":0.53},{"year":2006,"efficiency":0.565,"density":0.47},{"year":2006,"efficiency":0.5775,"density":0.43},{"year":2006,"efficiency":0.59,"density":0.39},{"year":2006,"efficiency":0.615,"density":0.36},{"year":2006,"efficiency":0.64,"density":0.33},{"year":2006,"efficiency":0.665,"density":0.31},{"year":2006,"efficiency":0.69,"density":0.29},{"year":2006,"efficiency":0.715,"density":0.28},{"year":2006,"efficiency":0.74,"density":0.27},{"year":2006,"efficiency":0.765,"density":0.27},{"year":2006,"efficiency":0.79,"density":0.27},{"year":2006,"efficiency":0.815,"density":0.27},{"year":2006,"efficiency":0.84,"density":0.27},{"year":2006,"efficiency":0.865,"density":0.28},{"year":2006,"efficiency":0.89,"density":0.3},{"year":2006,"efficiency":0.915,"density":0.33},{"year":2006,"efficiency":0.94,"density":0.37},{"year":2006,"efficiency":0.965,"density":0.42},{"year":2006,"efficiency":0.99,"density":0.47},{"year":2006,"efficiency":1.015,"density":0.51},{"year":2006,"efficiency":1.04,"density":0.53},{"year":2006,"efficiency":1.065,"density":0.5},{"year":2006,"efficiency":1.09,"density":0.45},{"year":2006,"efficiency":1.115,"density":0.38},{"year":2006,"efficiency":1.14,"density":0.3},{"year":2006,"efficiency":1.165,"density":0.22},{"year":2006,"efficiency":1.19,"density":0.15},{"year":2006,"efficiency":1.215,"density":0.08},{"year":2006,"efficiency":1.24,"density":0.02}
    ],
    "lines": [
      {"kind":"grid","e1":0,"yr1":2021,"z1":0,"e2":1.5,"yr2":2021,"z2":0},
      {"kind":"grid","e1":0,"yr1":2021,"z1":1,"e2":1.5,"yr2":2021,"z2":1},
      {"kind":"grid","e1":0,"yr1":2021,"z1":2,"e2":1.5,"yr2":2021,"z2":2},
      {"kind":"grid","e1":0,"yr1":2021,"z1":3,"e2":1.5,"yr2":2021,"z2":3},
      {"kind":"grid","e1":0,"yr1":2021,"z1":4,"e2":1.5,"yr2":2021,"z2":4},
      {"kind":"grid","e1":0.5,"yr1":2021,"z1":0,"e2":0.5,"yr2":2021,"z2":4},
      {"kind":"grid","e1":1,"yr1":2021,"z1":0,"e2":1,"yr2":2021,"z2":4},
      {"kind":"grid","e1":1.5,"yr1":2021,"z1":0,"e2":1.5,"yr2":2021,"z2":4},
      {"kind":"grid","e1":1.5,"yr1":2006,"z1":0,"e2":1.5,"yr2":2021,"z2":0},
      {"kind":"grid","e1":1.5,"yr1":2006,"z1":1,"e2":1.5,"yr2":2021,"z2":1},
      {"kind":"grid","e1":1.5,"yr1":2006,"z1":2,"e2":1.5,"yr2":2021,"z2":2},
      {"kind":"grid","e1":1.5,"yr1":2006,"z1":3,"e2":1.5,"yr2":2021,"z2":3},
      {"kind":"grid","e1":1.5,"yr1":2006,"z1":4,"e2":1.5,"yr2":2021,"z2":4},
      {"kind":"grid","e1":1.5,"yr1":2006,"z1":0,"e2":1.5,"yr2":2006,"z2":4},
      {"kind":"grid","e1":1.5,"yr1":2008,"z1":0,"e2":1.5,"yr2":2008,"z2":4},
      {"kind":"grid","e1":1.5,"yr1":2010,"z1":0,"e2":1.5,"yr2":2010,"z2":4},
      {"kind":"grid","e1":1.5,"yr1":2012,"z1":0,"e2":1.5,"yr2":2012,"z2":4},
      {"kind":"grid","e1":1.5,"yr1":2014,"z1":0,"e2":1.5,"yr2":2014,"z2":4},
      {"kind":"grid","e1":1.5,"yr1":2016,"z1":0,"e2":1.5,"yr2":2016,"z2":4},
      {"kind":"grid","e1":1.5,"yr1":2018,"z1":0,"e2":1.5,"yr2":2018,"z2":4},
      {"kind":"grid","e1":1.5,"yr1":2020,"z1":0,"e2":1.5,"yr2":2020,"z2":4},
      {"kind":"grid","e1":0.5,"yr1":2006,"z1":0,"e2":0.5,"yr2":2021,"z2":0},
      {"kind":"grid","e1":1,"yr1":2006,"z1":0,"e2":1,"yr2":2021,"z2":0},
      {"kind":"grid","e1":0,"yr1":2008,"z1":0,"e2":1.5,"yr2":2008,"z2":0},
      {"kind":"grid","e1":0,"yr1":2010,"z1":0,"e2":1.5,"yr2":2010,"z2":0},
      {"kind":"grid","e1":0,"yr1":2012,"z1":0,"e2":1.5,"yr2":2012,"z2":0},
      {"kind":"grid","e1":0,"yr1":2014,"z1":0,"e2":1.5,"yr2":2014,"z2":0},
      {"kind":"grid","e1":0,"yr1":2016,"z1":0,"e2":1.5,"yr2":2016,"z2":0},
      {"kind":"grid","e1":0,"yr1":2018,"z1":0,"e2":1.5,"yr2":2018,"z2":0},
      {"kind":"grid","e1":0,"yr1":2020,"z1":0,"e2":1.5,"yr2":2020,"z2":0},
      {"kind":"axis","e1":0,"yr1":2021,"z1":0,"e2":0,"yr2":2021,"z2":4},
      {"kind":"axis","e1":0,"yr1":2006,"z1":0,"e2":0,"yr2":2021,"z2":0},
      {"kind":"axis","e1":0,"yr1":2006,"z1":0,"e2":1.5,"yr2":2006,"z2":0},
      {"kind":"axis","e1":0,"yr1":2021,"z1":0,"e2":0,"yr2":2021.45,"z2":0},
      {"kind":"axis","e1":0,"yr1":2021,"z1":1,"e2":0,"yr2":2021.45,"z2":1},
      {"kind":"axis","e1":0,"yr1":2021,"z1":2,"e2":0,"yr2":2021.45,"z2":2},
      {"kind":"axis","e1":0,"yr1":2021,"z1":3,"e2":0,"yr2":2021.45,"z2":3},
      {"kind":"axis","e1":0,"yr1":2021,"z1":4,"e2":0,"yr2":2021.45,"z2":4},
      {"kind":"axis","e1":0,"yr1":2006,"z1":0,"e2":-0.03,"yr2":2006,"z2":0},
      {"kind":"axis","e1":0,"yr1":2008,"z1":0,"e2":-0.03,"yr2":2008,"z2":0},
      {"kind":"axis","e1":0,"yr1":2010,"z1":0,"e2":-0.03,"yr2":2010,"z2":0},
      {"kind":"axis","e1":0,"yr1":2012,"z1":0,"e2":-0.03,"yr2":2012,"z2":0},
      {"kind":"axis","e1":0,"yr1":2014,"z1":0,"e2":-0.03,"yr2":2014,"z2":0},
      {"kind":"axis","e1":0,"yr1":2016,"z1":0,"e2":-0.03,"yr2":2016,"z2":0},
      {"kind":"axis","e1":0,"yr1":2018,"z1":0,"e2":-0.03,"yr2":2018,"z2":0},
      {"kind":"axis","e1":0,"yr1":2020,"z1":0,"e2":-0.03,"yr2":2020,"z2":0},
      {"kind":"axis","e1":0,"yr1":2006,"z1":0,"e2":0,"yr2":2005.4,"z2":0},
      {"kind":"axis","e1":0.5,"yr1":2006,"z1":0,"e2":0.5,"yr2":2005.4,"z2":0},
      {"kind":"axis","e1":1,"yr1":2006,"z1":0,"e2":1,"yr2":2005.4,"z2":0},
      {"kind":"axis","e1":1.5,"yr1":2006,"z1":0,"e2":1.5,"yr2":2005.4,"z2":0}
    ],
    "labels": [
      {"kind":"z","e":0,"yr":2021,"z":0,"text":"0"},
      {"kind":"z","e":0,"yr":2021,"z":1,"text":"1"},
      {"kind":"z","e":0,"yr":2021,"z":2,"text":"2"},
      {"kind":"z","e":0,"yr":2021,"z":3,"text":"3"},
      {"kind":"z","e":0,"yr":2021,"z":4,"text":"4"},
      {"kind":"year","e":0,"yr":2006,"z":0,"text":"2006"},
      {"kind":"year","e":0,"yr":2008,"z":0,"text":"2008"},
      {"kind":"year","e":0,"yr":2010,"z":0,"text":"2010"},
      {"kind":"year","e":0,"yr":2012,"z":0,"text":"2012"},
      {"kind":"year","e":0,"yr":2014,"z":0,"text":"2014"},
      {"kind":"year","e":0,"yr":2016,"z":0,"text":"2016"},
      {"kind":"year","e":0,"yr":2018,"z":0,"text":"2018"},
      {"kind":"year","e":0,"yr":2020,"z":0,"text":"2020"},
      {"kind":"eff","e":0,"yr":2006,"z":0,"text":"0"},
      {"kind":"eff","e":0.5,"yr":2006,"z":0,"text":"0.5"},
      {"kind":"eff","e":1,"yr":2006,"z":0,"text":"1"},
      {"kind":"eff","e":1.5,"yr":2006,"z":0,"text":"1.5"},
      {"kind":"ztitle","e":0,"yr":2021,"z":2,"text":"Density"},
      {"kind":"ytitle","e":0,"yr":2006,"z":0,"text":"year"},
      {"kind":"etitle","e":0.75,"yr":2006,"z":0,"text":"efficiency"}
    ]
  },
  "encoding": {
    "x": {"field": "sx", "type": "quantitative", "scale": {"domain": [0, 550], "nice": false, "zero": false}, "axis": null},
    "y": {"field": "sy", "type": "quantitative", "scale": {"domain": [0, 413], "reverse": true, "nice": false, "zero": false}, "axis": null}
  },
  "layer": [
    {
      "data": {"name": "lines"},
      "transform": [
        {"filter": "datum.kind == 'grid'"},
        {"calculate": "171.7 + 228.9*datum.e1 - 8.34*(datum.yr1 - 2006)", "as": "sx"},
        {"calculate": "373.3 - 26.2*datum.e1 - 7.74*(datum.yr1 - 2006) - 53*datum.z1", "as": "sy"},
        {"calculate": "171.7 + 228.9*datum.e2 - 8.34*(datum.yr2 - 2006)", "as": "sx2"},
        {"calculate": "373.3 - 26.2*datum.e2 - 7.74*(datum.yr2 - 2006) - 53*datum.z2", "as": "sy2"}
      ],
      "mark": {"type": "rule", "color": "#e3e3e3", "strokeWidth": 0.8},
      "encoding": {"x2": {"field": "sx2"}, "y2": {"field": "sy2"}}
    },
    {
      "data": {"name": "surface"},
      "transform": [
        {"calculate": "datum.year - 2006", "as": "t"},
        {"calculate": "171.7 + 228.9*datum.efficiency - 8.34*datum.t", "as": "sx"},
        {"calculate": "373.3 - 26.2*datum.efficiency - 7.74*datum.t - 53*datum.density", "as": "sy"},
        {"window": [{"op": "lead", "field": "sx", "as": "nx"}, {"op": "lead", "field": "sy", "as": "ny"}, {"op": "lead", "field": "density", "as": "nd"}], "groupby": ["year"], "sort": [{"field": "efficiency", "order": "ascending"}]},
        {"window": [{"op": "lag", "field": "sx", "as": "bx"}, {"op": "lag", "field": "sy", "as": "by"}, {"op": "lag", "field": "density", "as": "bd"}], "groupby": ["efficiency"], "sort": [{"field": "year", "order": "ascending"}]},
        {"calculate": "1", "as": "pb"},
        {"calculate": "1", "as": "pf"},
        {"fold": ["nx", "bx", "pb", "pf"], "as": ["kind", "sx2"]},
        {"calculate": "datum.kind == 'nx' ? datum.ny : datum.by", "as": "sy2"},
        {"calculate": "datum.kind == 'nx' ? (datum.density + datum.nd) / 2 : (datum.density + datum.bd) / 2", "as": "c"},
        {"calculate": "datum.kind == 'pf' ? 10 - datum.efficiency : datum.efficiency", "as": "ord"}
      ],
      "encoding": {
        "color": {
          "field": "c",
          "type": "quantitative",
          "scale": {
            "domain": [0, 0.4, 0.75, 1.05, 1.3, 1.5, 1.75, 2.0, 2.28, 2.55],
            "range": ["#3e26a8", "#4747eb", "#3e6fff", "#2796eb", "#08b5d0", "#31c69f", "#80cc59", "#dcbd29", "#fccf30", "#f9fb15"]
          },
          "legend": null
        }
      },
      "layer": [
        {"transform": [{"filter": "datum.kind == 'nx' && datum.year == 2021 && isValid(datum.sx2)"}], "mark": {"type": "rule", "strokeWidth": 1}, "encoding": {"x2": {"field": "sx2"}, "y2": {"field": "sy2"}}},
        {"transform": [{"filter": "(datum.kind == 'pb' && datum.year == 2021) || (datum.kind == 'pf' && datum.year == 2020)"}], "mark": {"type": "line", "fill": "white", "strokeWidth": 0}, "encoding": {"order": {"field": "ord", "type": "quantitative"}, "color": {"value": "white"}}},
        {"transform": [{"filter": "((datum.kind == 'bx' && datum.year == 2021) || (datum.kind == 'nx' && datum.year == 2020)) && isValid(datum.sx2)"}], "mark": {"type": "rule", "strokeWidth": 1}, "encoding": {"x2": {"field": "sx2"}, "y2": {"field": "sy2"}}},
        {"transform": [{"filter": "(datum.kind == 'pb' && datum.year == 2020) || (datum.kind == 'pf' && datum.year == 2019)"}], "mark": {"type": "line", "fill": "white", "strokeWidth": 0}, "encoding": {"order": {"field": "ord", "type": "quantitative"}, "color": {"value": "white"}}},
        {"transform": [{"filter": "((datum.kind == 'bx' && datum.year == 2020) || (datum.kind == 'nx' && datum.year == 2019)) && isValid(datum.sx2)"}], "mark": {"type": "rule", "strokeWidth": 1}, "encoding": {"x2": {"field": "sx2"}, "y2": {"field": "sy2"}}},
        {"transform": [{"filter": "(datum.kind == 'pb' && datum.year == 2019) || (datum.kind == 'pf' && datum.year == 2018)"}], "mark": {"type": "line", "fill": "white", "strokeWidth": 0}, "encoding": {"order": {"field": "ord", "type": "quantitative"}, "color": {"value": "white"}}},
        {"transform": [{"filter": "((datum.kind == 'bx' && datum.year == 2019) || (datum.kind == 'nx' && datum.year == 2018)) && isValid(datum.sx2)"}], "mark": {"type": "rule", "strokeWidth": 1}, "encoding": {"x2": {"field": "sx2"}, "y2": {"field": "sy2"}}},
        {"transform": [{"filter": "(datum.kind == 'pb' && datum.year == 2018) || (datum.kind == 'pf' && datum.year == 2017)"}], "mark": {"type": "line", "fill": "white", "strokeWidth": 0}, "encoding": {"order": {"field": "ord", "type": "quantitative"}, "color": {"value": "white"}}},
        {"transform": [{"filter": "((datum.kind == 'bx' && datum.year == 2018) || (datum.kind == 'nx' && datum.year == 2017)) && isValid(datum.sx2)"}], "mark": {"type": "rule", "strokeWidth": 1}, "encoding": {"x2": {"field": "sx2"}, "y2": {"field": "sy2"}}},
        {"transform": [{"filter": "(datum.kind == 'pb' && datum.year == 2017) || (datum.kind == 'pf' && datum.year == 2016)"}], "mark": {"type": "line", "fill": "white", "strokeWidth": 0}, "encoding": {"order": {"field": "ord", "type": "quantitative"}, "color": {"value": "white"}}},
        {"transform": [{"filter": "((datum.kind == 'bx' && datum.year == 2017) || (datum.kind == 'nx' && datum.year == 2016)) && isValid(datum.sx2)"}], "mark": {"type": "rule", "strokeWidth": 1}, "encoding": {"x2": {"field": "sx2"}, "y2": {"field": "sy2"}}},
        {"transform": [{"filter": "(datum.kind == 'pb' && datum.year == 2016) || (datum.kind == 'pf' && datum.year == 2015)"}], "mark": {"type": "line", "fill": "white", "strokeWidth": 0}, "encoding": {"order": {"field": "ord", "type": "quantitative"}, "color": {"value": "white"}}},
        {"transform": [{"filter": "((datum.kind == 'bx' && datum.year == 2016) || (datum.kind == 'nx' && datum.year == 2015)) && isValid(datum.sx2)"}], "mark": {"type": "rule", "strokeWidth": 1}, "encoding": {"x2": {"field": "sx2"}, "y2": {"field": "sy2"}}},
        {"transform": [{"filter": "(datum.kind == 'pb' && datum.year == 2015) || (datum.kind == 'pf' && datum.year == 2014)"}], "mark": {"type": "line", "fill": "white", "strokeWidth": 0}, "encoding": {"order": {"field": "ord", "type": "quantitative"}, "color": {"value": "white"}}},
        {"transform": [{"filter": "((datum.kind == 'bx' && datum.year == 2015) || (datum.kind == 'nx' && datum.year == 2014)) && isValid(datum.sx2)"}], "mark": {"type": "rule", "strokeWidth": 1}, "encoding": {"x2": {"field": "sx2"}, "y2": {"field": "sy2"}}},
        {"transform": [{"filter": "(datum.kind == 'pb' && datum.year == 2014) || (datum.kind == 'pf' && datum.year == 2013)"}], "mark": {"type": "line", "fill": "white", "strokeWidth": 0}, "encoding": {"order": {"field": "ord", "type": "quantitative"}, "color": {"value": "white"}}},
        {"transform": [{"filter": "((datum.kind == 'bx' && datum.year == 2014) || (datum.kind == 'nx' && datum.year == 2013)) && isValid(datum.sx2)"}], "mark": {"type": "rule", "strokeWidth": 1}, "encoding": {"x2": {"field": "sx2"}, "y2": {"field": "sy2"}}},
        {"transform": [{"filter": "(datum.kind == 'pb' && datum.year == 2013) || (datum.kind == 'pf' && datum.year == 2012)"}], "mark": {"type": "line", "fill": "white", "strokeWidth": 0}, "encoding": {"order": {"field": "ord", "type": "quantitative"}, "color": {"value": "white"}}},
        {"transform": [{"filter": "((datum.kind == 'bx' && datum.year == 2013) || (datum.kind == 'nx' && datum.year == 2012)) && isValid(datum.sx2)"}], "mark": {"type": "rule", "strokeWidth": 1}, "encoding": {"x2": {"field": "sx2"}, "y2": {"field": "sy2"}}},
        {"transform": [{"filter": "(datum.kind == 'pb' && datum.year == 2012) || (datum.kind == 'pf' && datum.year == 2011)"}], "mark": {"type": "line", "fill": "white", "strokeWidth": 0}, "encoding": {"order": {"field": "ord", "type": "quantitative"}, "color": {"value": "white"}}},
        {"transform": [{"filter": "((datum.kind == 'bx' && datum.year == 2012) || (datum.kind == 'nx' && datum.year == 2011)) && isValid(datum.sx2)"}], "mark": {"type": "rule", "strokeWidth": 1}, "encoding": {"x2": {"field": "sx2"}, "y2": {"field": "sy2"}}},
        {"transform": [{"filter": "(datum.kind == 'pb' && datum.year == 2011) || (datum.kind == 'pf' && datum.year == 2010)"}], "mark": {"type": "line", "fill": "white", "strokeWidth": 0}, "encoding": {"order": {"field": "ord", "type": "quantitative"}, "color": {"value": "white"}}},
        {"transform": [{"filter": "((datum.kind == 'bx' && datum.year == 2011) || (datum.kind == 'nx' && datum.year == 2010)) && isValid(datum.sx2)"}], "mark": {"type": "rule", "strokeWidth": 1}, "encoding": {"x2": {"field": "sx2"}, "y2": {"field": "sy2"}}},
        {"transform": [{"filter": "(datum.kind == 'pb' && datum.year == 2010) || (datum.kind == 'pf' && datum.year == 2009)"}], "mark": {"type": "line", "fill": "white", "strokeWidth": 0}, "encoding": {"order": {"field": "ord", "type": "quantitative"}, "color": {"value": "white"}}},
        {"transform": [{"filter": "((datum.kind == 'bx' && datum.year == 2010) || (datum.kind == 'nx' && datum.year == 2009)) && isValid(datum.sx2)"}], "mark": {"type": "rule", "strokeWidth": 1}, "encoding": {"x2": {"field": "sx2"}, "y2": {"field": "sy2"}}},
        {"transform": [{"filter": "(datum.kind == 'pb' && datum.year == 2009) || (datum.kind == 'pf' && datum.year == 2008)"}], "mark": {"type": "line", "fill": "white", "strokeWidth": 0}, "encoding": {"order": {"field": "ord", "type": "quantitative"}, "color": {"value": "white"}}},
        {"transform": [{"filter": "((datum.kind == 'bx' && datum.year == 2009) || (datum.kind == 'nx' && datum.year == 2008)) && isValid(datum.sx2)"}], "mark": {"type": "rule", "strokeWidth": 1}, "encoding": {"x2": {"field": "sx2"}, "y2": {"field": "sy2"}}},
        {"transform": [{"filter": "(datum.kind == 'pb' && datum.year == 2008) || (datum.kind == 'pf' && datum.year == 2007)"}], "mark": {"type": "line", "fill": "white", "strokeWidth": 0}, "encoding": {"order": {"field": "ord", "type": "quantitative"}, "color": {"value": "white"}}},
        {"transform": [{"filter": "((datum.kind == 'bx' && datum.year == 2008) || (datum.kind == 'nx' && datum.year == 2007)) && isValid(datum.sx2)"}], "mark": {"type": "rule", "strokeWidth": 1}, "encoding": {"x2": {"field": "sx2"}, "y2": {"field": "sy2"}}},
        {"transform": [{"filter": "(datum.kind == 'pb' && datum.year == 2007) || (datum.kind == 'pf' && datum.year == 2006)"}], "mark": {"type": "line", "fill": "white", "strokeWidth": 0}, "encoding": {"order": {"field": "ord", "type": "quantitative"}, "color": {"value": "white"}}},
        {"transform": [{"filter": "((datum.kind == 'bx' && datum.year == 2007) || (datum.kind == 'nx' && datum.year == 2006)) && isValid(datum.sx2)"}], "mark": {"type": "rule", "strokeWidth": 1}, "encoding": {"x2": {"field": "sx2"}, "y2": {"field": "sy2"}}}
      ]
    },
    {
      "data": {"name": "lines"},
      "transform": [
        {"filter": "datum.kind == 'axis'"},
        {"calculate": "171.7 + 228.9*datum.e1 - 8.34*(datum.yr1 - 2006)", "as": "sx"},
        {"calculate": "373.3 - 26.2*datum.e1 - 7.74*(datum.yr1 - 2006) - 53*datum.z1", "as": "sy"},
        {"calculate": "171.7 + 228.9*datum.e2 - 8.34*(datum.yr2 - 2006)", "as": "sx2"},
        {"calculate": "373.3 - 26.2*datum.e2 - 7.74*(datum.yr2 - 2006) - 53*datum.z2", "as": "sy2"}
      ],
      "mark": {"type": "rule", "color": "#262626", "strokeWidth": 0.8},
      "encoding": {"x2": {"field": "sx2"}, "y2": {"field": "sy2"}}
    },
    {
      "data": {"name": "labels"},
      "transform": [
        {"calculate": "171.7 + 228.9*datum.e - 8.34*(datum.yr - 2006)", "as": "sx"},
        {"calculate": "373.3 - 26.2*datum.e - 7.74*(datum.yr - 2006) - 53*datum.z", "as": "sy"}
      ],
      "encoding": {"text": {"field": "text"}},
      "layer": [
        {"transform": [{"filter": "datum.kind == 'z'"}], "mark": {"type": "text", "align": "right", "baseline": "middle", "dx": -9, "dy": -6.5}},
        {"transform": [{"filter": "datum.kind == 'year'"}], "mark": {"type": "text", "align": "right", "baseline": "middle", "dx": -14, "dy": 11.5}},
        {"transform": [{"filter": "datum.kind == 'eff'"}], "mark": {"type": "text", "align": "left", "baseline": "middle", "dx": 11, "dy": 17.8}},
        {"transform": [{"filter": "datum.kind == 'ztitle'"}], "mark": {"type": "text", "align": "center", "baseline": "middle", "angle": 270, "fontSize": 15.5, "dx": -2.7, "dy": -33.7}},
        {"transform": [{"filter": "datum.kind == 'ytitle'"}], "mark": {"type": "text", "align": "center", "baseline": "middle", "fontSize": 15.5, "dx": -104, "dy": 9.7}},
        {"transform": [{"filter": "datum.kind == 'etitle'"}], "mark": {"type": "text", "align": "center", "baseline": "middle", "fontSize": 15.5, "dx": -8, "dy": 46.3}}
      ]
    }
  ]
}
